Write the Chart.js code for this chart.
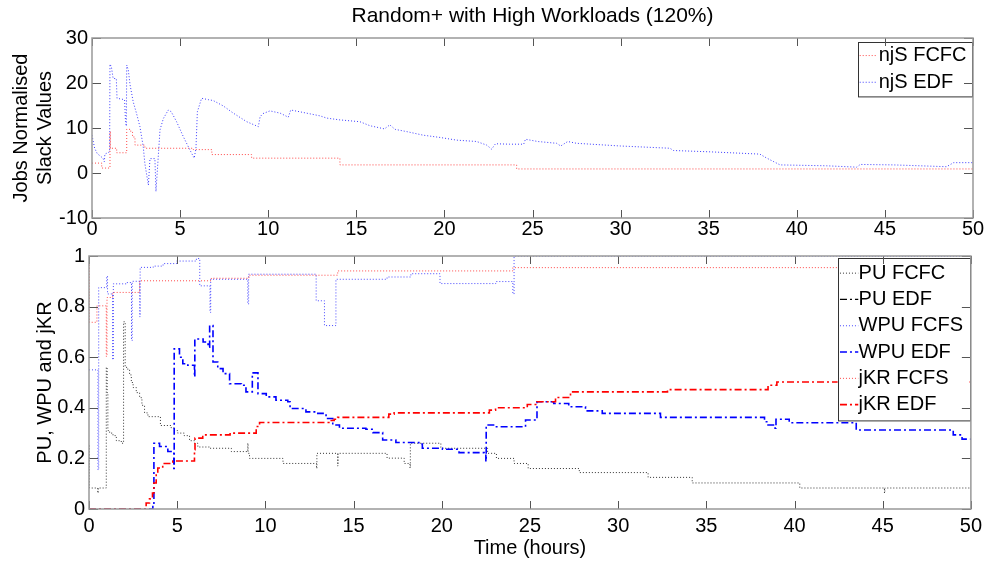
<!DOCTYPE html>
<html>
<head>
<meta charset="utf-8">
<script src="https://cdn.jsdelivr.net/npm/chart.js@4.4.0/dist/chart.umd.min.js"></script>
<style>
  body { margin: 0; background: #fff; width: 987px; height: 563px; overflow: hidden; position: relative;
         font-family: "Liberation Sans", Arial, sans-serif; }
  #title { position: absolute; left: 92px; width: 881px; top: 3px; text-align: center; font-size: 21px; line-height: 24px; color: #000; }
  #top { position: absolute; left: 0; top: 0; }
  #bottom { position: absolute; left: 0; top: 240px; }
</style>
</head>
<body>
<canvas id="top" width="987" height="250"></canvas>
<canvas id="bottom" width="987" height="323"></canvas>
<div id="title">Random+ with High Workloads (120%)</div>
<script>
// tick labels
const timeTicks = [0, 5, 10, 15, 20, 25, 30, 35, 40, 45, 50];
const slackTicks = [-10, 0, 10, 20, 30];
const ratioTicks = [0, 0.2, 0.4, 0.6, 0.8, 1];

// top panel: [hours, value]
const njsFcfc = [[0,2.2],[0.55,1.1],[1.02,9.2],[1.05,5.5],[1.4,4.5],[1.97,9.7],[2.2,9.1],[2.3,8.0],[2.44,6.2],
  [3.0,5.5],[5.75,5.2],[6.8,4.1],[9.06,3.3],[14.07,1.8],[24.1,0.9],[50,0.9]];
const njsEdf = [[0,8.4],[0.15,5.5],[0.3,4.3],[0.62,3.3],[0.7,2.5],[0.73,4.2],[1.0,4.7],[1.02,24.2],[1.1,23.6],
  [1.2,21],[1.38,21],[1.42,16.6],[1.85,16.3],[1.9,11.5],[1.95,10.4],[1.97,24],[2.06,22.9],[2.16,19.6],[2.34,15.8],
  [2.53,13.2],[2.72,10.3],[2.91,5.8],[3.0,2.1],[3.2,-2.7],[3.29,3.2],[3.57,3.2],[3.63,-4.1],[3.7,0],[3.86,9.6],
  [4.05,12.1],[4.33,14],[4.5,13.6],[4.8,11.4],[5.18,8.1],[5.56,5.1],[5.8,3.3],[5.9,5.5],[5.98,13.6],[6.22,16.6],
  [6.6,16.3],[6.88,16.1],[7.45,14.9],[8.02,13.3],[8.78,11.4],[9.44,10.3],[9.54,12.5],[9.7,13.2],[10.1,13.8],
  [10.68,13.3],[11.14,12.4],[11.28,14],[11.8,13.6],[12.94,12.7],[13.32,12.2],[14.07,11.8],[15.2,11.4],[15.78,10.5],
  [16.6,9.8],[16.9,10.7],[17.2,9.7],[17.86,9.2],[18.8,8.4],[19.75,7.9],[20.7,7.3],[21.83,7.0],[22.4,6.2],[22.68,5.3],
  [22.9,6.5],[23.7,6.4],[24.5,6.4],[24.6,7.5],[25.3,7.0],[26.37,6.6],[26.6,6.0],[27.0,7.0],[27.5,6.6],[30,6.0],
  [32.8,5.5],[33.0,5.0],[35.1,4.7],[37.9,4.2],[38.3,3.3],[38.7,2.5],[39.05,1.8],[41.7,1.6],[43.4,1.3],[43.6,1.9],
  [45.5,1.8],[48.5,1.4],[48.9,2.3],[50,2.3]];

// bottom panel: [hours, value]  (value takes effect at that hour)
const puFcfc = [[0,0.25],[0.02,0.083],[0.5,0.063],[0.52,0.083],[0.98,0.56],[1.03,0.46],[1.07,0.31],[1.17,0.30],
  [1.36,0.29],[1.55,0.27],[1.83,0.26],[1.96,0.74],[2.05,0.56],[2.2,0.55],[2.3,0.53],[2.4,0.50],[2.5,0.48],[2.68,0.46],
  [2.87,0.44],[3.0,0.41],[3.15,0.38],[3.34,0.365],[4.05,0.33],[4.66,0.32],[4.85,0.31],[5.03,0.30],[5.4,0.29],
  [5.7,0.27],[5.98,0.26],[6.17,0.245],[6.84,0.24],[8.07,0.227],[9.0,0.26],[9.02,0.22],[9.1,0.2],[11.0,0.18],
  [12.9,0.16],[12.92,0.22],[14.1,0.17],[14.12,0.22],[16.9,0.201],[17.87,0.18],[18.2,0.162],[18.22,0.26],
  [19.95,0.24],[22.6,0.22],[23.1,0.2],[24.1,0.18],[24.9,0.16],[27.8,0.144],[31.7,0.125],[34.2,0.103],[40.3,0.083],
  [45.1,0.063],[45.12,0.083],[50,0.083]];
const puEdf = [];
const wpuFcfs = [[0,0.55],[0.51,0.155],[0.55,0.875],[1.0,0.92],[1.05,0.85],[1.34,0.59],[1.38,0.89],[2.13,0.895],
  [2.41,0.666],[2.45,0.90],[2.88,0.76],[2.9,0.955],[3.64,0.96],[4.2,0.97],[4.96,0.98],[6.09,0.99],[6.28,0.882],
  [6.86,0.777],[6.9,0.908],[9.0,0.81],[9.05,0.928],[12.88,0.823],[13.35,0.725],[14.0,0.908],[16.9,0.917],
  [18.25,0.93],[19.9,0.891],[23.06,0.899],[24.03,0.85],[24.1,1.0],[50,1.0]];
const wpuEdf = [[0,0],[3.62,0.018],[3.68,0.26],[4.0,0.247],[4.47,0.227],[4.75,0.223],[4.81,0.16],[4.83,0.633],
  [5.13,0.6],[5.32,0.574],[5.6,0.568],[5.98,0.522],[6.0,0.672],[6.47,0.66],[6.75,0.64],[6.84,0.725],[7.03,0.581],
  [7.3,0.555],[7.6,0.535],[7.97,0.495],[8.64,0.489],[8.9,0.463],[9.26,0.538],[9.58,0.456],[10.05,0.443],[10.6,0.43],
  [11.27,0.424],[11.4,0.397],[12.3,0.384],[12.97,0.378],[13.44,0.358],[13.82,0.332],[14.2,0.319],[15.7,0.315],
  [16.1,0.302],[16.65,0.273],[17.4,0.263],[18.7,0.257],[18.9,0.24],[20.04,0.236],[20.98,0.223],[22.4,0.22],
  [22.5,0.188],[22.52,0.332],[23.0,0.325],[24.75,0.352],[25.4,0.424],[26.35,0.417],[27.2,0.404],[28.15,0.388],
  [29.1,0.378],[32.4,0.362],[38.3,0.345],[38.5,0.332],[38.9,0.319],[38.95,0.355],[39.7,0.341],[43.5,0.312],
  [49.0,0.293],[49.5,0.276],[50,0.276]];
const jkrFcfs = [[0,1.0],[0.02,0.738],[0.45,0.803],[0.98,0.603],[1.02,0.836],[1.34,0.856],[2.87,0.902],
  [6.94,0.912],[9.07,0.924],[14.1,0.941],[24.03,0.954],[50,0.954]];
const jkrEdf = [[0,0],[3.24,0.024],[3.43,0.04],[3.6,0.063],[3.68,0.103],[3.81,0.142],[3.9,0.162],[4.18,0.18],
  [4.75,0.19],[5.98,0.234],[6.01,0.28],[6.45,0.293],[8.0,0.3],[9.48,0.326],[9.67,0.342],[13.6,0.35],[13.9,0.355],
  [14.1,0.362],[17.0,0.375],[17.3,0.38],[22.7,0.391],[23.05,0.40],[24.85,0.413],[25.4,0.424],[26.45,0.441],
  [27.3,0.463],[32.8,0.472],[38.5,0.489],[39.0,0.502],[50,0.502]];

const FONT = { family: '"Liberation Sans", Arial, sans-serif', size: 20 };
const DOT = [1, 2];
const DASHDOT = [7, 3, 2, 3];

function series(label, pts, color, dash, width, stepped, i) {
  return {
    label, data: pts.map(([x, y]) => ({ x, y })),
    borderColor: color, borderDash: dash, borderWidth: width,
    stepped, pointRadius: 0, fill: false, tension: 0, order: -i
  };
}

// inward ticks + grey box, matlab style
const axesBox = {
  id: 'axesBox',
  afterDraw(chart) {
    const { ctx, chartArea: a, scales: { x, y } } = chart;
    ctx.save();
    ctx.strokeStyle = '#555';
    ctx.lineWidth = 1;
    ctx.beginPath();
    x.ticks.forEach(t => {
      const px = Math.round(x.getPixelForValue(t.value)) + 0.5;
      ctx.moveTo(px, a.top); ctx.lineTo(px, a.top + 8);
      ctx.moveTo(px, a.bottom); ctx.lineTo(px, a.bottom - 8);
    });
    y.ticks.forEach(t => {
      const py = Math.round(y.getPixelForValue(t.value)) + 0.5;
      ctx.moveTo(a.left, py); ctx.lineTo(a.left + 9, py);
      ctx.moveTo(a.right, py); ctx.lineTo(a.right - 9, py);
    });
    ctx.stroke();
    ctx.strokeStyle = '#999';
    ctx.lineWidth = 1.5;
    ctx.strokeRect(a.left, a.top, a.right - a.left, a.bottom - a.top);
    ctx.restore();
  }
};

const boxLegend = {
  id: 'boxLegend',
  afterDatasetsDraw(chart, args, o) {
    const { ctx, chartArea: a } = chart;
    const sets = chart.data.datasets;
    const h = o.rowH * sets.length + o.pad * 2;
    const left = a.right - o.right - o.width, top = a.top + o.top;
    ctx.save();
    ctx.fillStyle = '#fff';
    ctx.fillRect(left, top, o.width, h);
    ctx.strokeStyle = '#333';
    ctx.lineWidth = 1;
    ctx.strokeRect(Math.round(left) + 0.5, Math.round(top) + 0.5, o.width, h);
    ctx.font = '20px "Liberation Sans", Arial, sans-serif';
    ctx.textBaseline = 'middle';
    sets.forEach((ds, i) => {
      const cy = top + o.pad + o.rowH * (i + 0.5);
      ctx.strokeStyle = ds.borderColor;
      ctx.lineWidth = ds.borderWidth;
      ctx.setLineDash(ds.borderDash);
      ctx.beginPath();
      ctx.moveTo(left + o.sampleX, cy);
      ctx.lineTo(left + o.sampleX + o.sampleLen, cy);
      ctx.stroke();
      ctx.setLineDash([]);
      ctx.fillStyle = '#000';
      ctx.fillText(ds.label, left + o.textX, cy);
    });
    ctx.restore();
  }
};

function tickList(list) {
  return s => { s.ticks = list.map(v => ({ value: v })); };
}

function axis(min, max, list, pad, extra) {
  return Object.assign({
    type: 'linear', min, max,
    afterBuildTicks: tickList(list),
    grid: { display: false, drawTicks: false }, border: { display: false },
    ticks: { font: FONT, color: '#000', autoSkip: false, maxRotation: 0, padding: pad,
             callback: v => String(Number(v.toFixed(2))) }
  }, extra);
}

new Chart(document.getElementById('top'), {
  type: 'line',
  data: {
    datasets: [
      series('njS FCFC', njsFcfc, 'rgba(255,40,40,0.85)', DOT, 1, true, 0),
      series('njS EDF', njsEdf, 'rgba(40,40,255,0.9)', DOT, 1, false, 1)
    ]
  },
  options: {
    responsive: false, animation: false, events: [],
    layout: { padding: { top: 38, right: 14, left: 0, bottom: 0 } },
    plugins: {
      legend: { display: false }, tooltip: { enabled: false },
      boxLegend: { right: 1.3, top: 3.7, width: 114, rowH: 26.7, pad: 0.5, sampleX: 2, sampleLen: 18, textX: 21 }
    },
    scales: {
      x: axis(0, 50, timeTicks, -1, { afterFit: s => { s.height = 32; } }),
      y: axis(-10, 30, slackTicks, 4, {
        afterFit: s => { s.width = 92; },
        title: { display: true, text: ['Jobs Normalised', 'Slack Values'], font: FONT, color: '#000', padding: { top: 9, bottom: 0 } }
      })
    }
  },
  plugins: [boxLegend, axesBox]
});

new Chart(document.getElementById('bottom'), {
  type: 'line',
  data: {
    datasets: [
      series('PU FCFC', puFcfc, 'rgba(0,0,0,0.8)', DOT, 1, true, 0),
      series('PU EDF', puEdf, '#000', DASHDOT, 1.2, true, 1),
      series('WPU FCFS', wpuFcfs, 'rgba(40,40,255,0.85)', DOT, 1, true, 2),
      series('WPU EDF', wpuEdf, '#0000ff', DASHDOT, 1.6, true, 3),
      series('jKR FCFS', jkrFcfs, 'rgba(255,40,40,0.85)', DOT, 1, true, 4),
      series('jKR EDF', jkrEdf, '#ff0000', DASHDOT, 1.6, true, 5)
    ]
  },
  options: {
    responsive: false, animation: false, events: [],
    layout: { padding: { top: 15, right: 14, left: 0, bottom: 0 } },
    plugins: {
      legend: { display: false }, tooltip: { enabled: false },
      boxLegend: { right: 1.3, top: 1.7, width: 132, rowH: 26.3, pad: 2.3, sampleX: 2.4, sampleLen: 18.3, textX: 21 }
    },
    scales: {
      x: axis(0, 50, timeTicks, 5, {
        afterFit: s => { s.height = 54; },
        title: { display: true, text: 'Time (hours)', font: FONT, color: '#000', padding: { top: 0, bottom: 3 } }
      }),
      y: axis(0, 1, ratioTicks, 4, {
        afterFit: s => { s.width = 89; },
        title: { display: true, text: 'PU, WPU and jKR', font: FONT, color: '#000', padding: { top: 33, bottom: 0 } }
      })
    }
  },
  plugins: [boxLegend, axesBox]
});
</script>
</body>
</html>
